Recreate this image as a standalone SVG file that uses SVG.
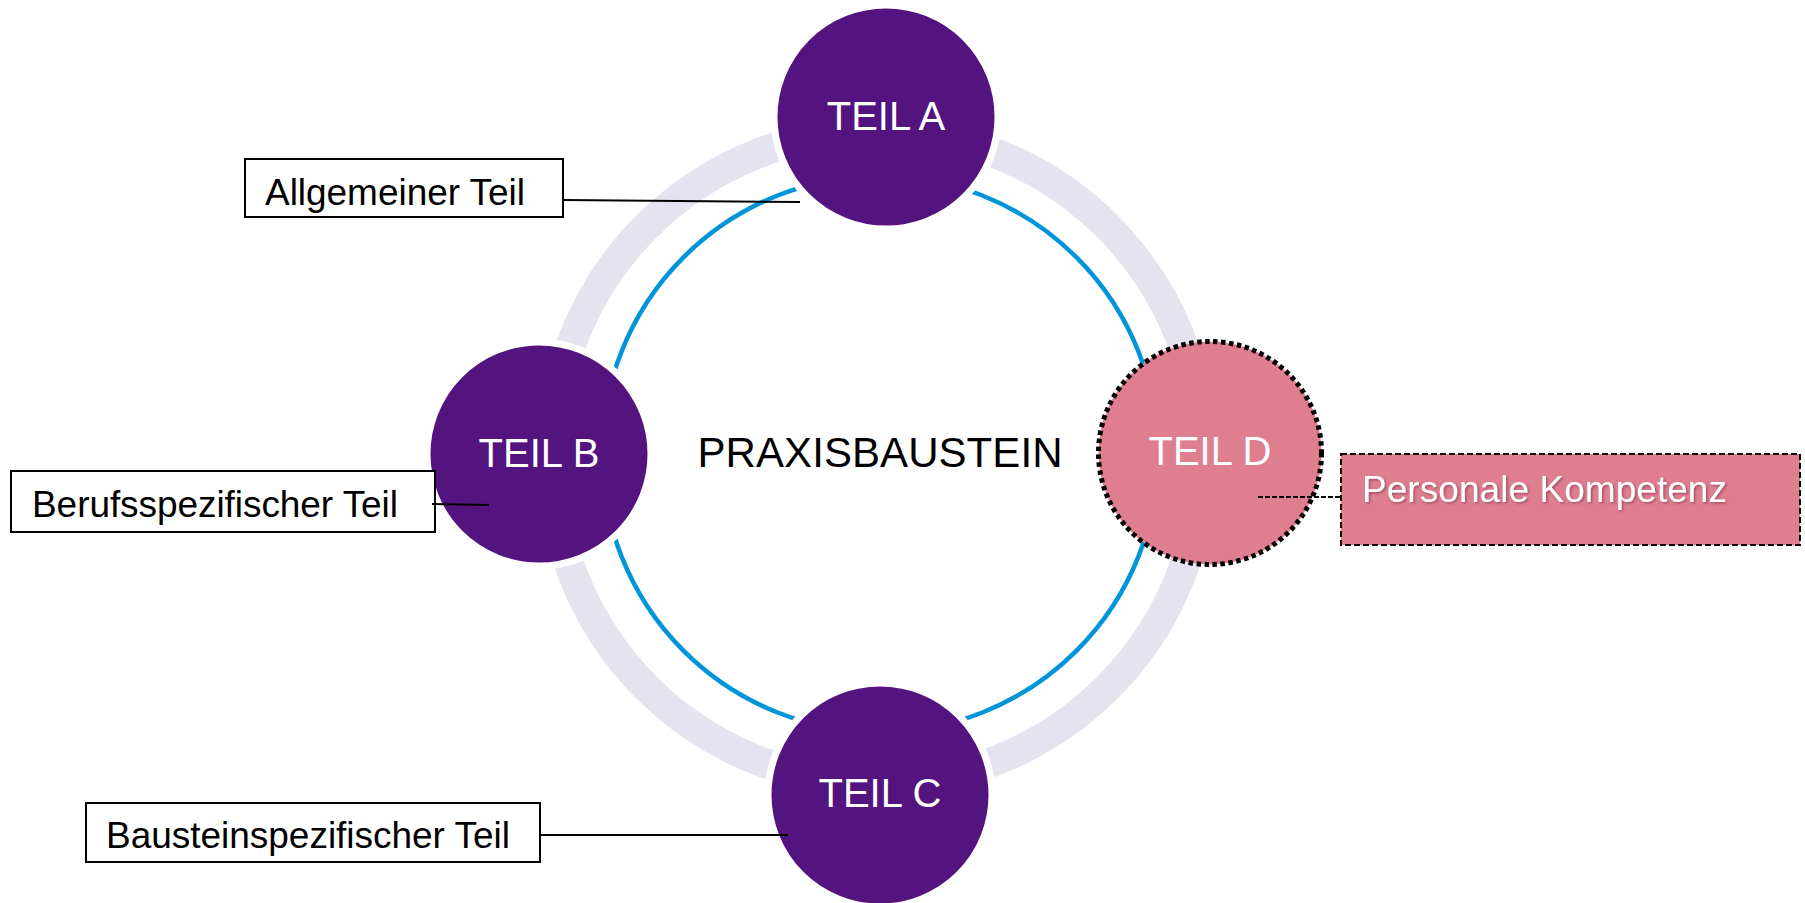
<svg xmlns="http://www.w3.org/2000/svg" width="1805" height="903" viewBox="0 0 1805 903">
<style>
.hub{fill:#541480;stroke:#ffffff;stroke-width:7}
.hubtxt{font-family:"Liberation Sans",Arial,sans-serif;font-size:40px;fill:#ffffff;text-anchor:middle}
.lbl{fill:#ffffff;stroke:#000000;stroke-width:2}
.lbltxt{font-family:"Liberation Sans",Arial,sans-serif;font-size:37px;fill:#000000}
.conn{stroke:#000000;stroke-width:2;fill:none}
</style>
<defs>
<filter id="sh" x="-5%" y="-20%" width="110%" height="140%">
<feDropShadow dx="1.5" dy="1.5" stdDeviation="1" flood-color="#7a3040" flood-opacity="0.6"/>
</filter>
</defs>
<rect width="1805" height="903" fill="#ffffff"/>
<g id="ring">
<circle cx="877" cy="457" r="326" fill="none" stroke="#E6E3F0" stroke-width="30"/>
<circle cx="880" cy="454" r="278" fill="none" stroke="#0095DA" stroke-width="4.5"/>
</g>
<text x="880" y="467" font-family="Liberation Sans, Arial, sans-serif" font-size="42" text-anchor="middle" fill="#000000" textLength="365">PRAXISBAUSTEIN</text>
<g id="teil-a">
<circle class="hub" cx="886" cy="117" r="112"/>
<text class="hubtxt" x="886" y="130">TEIL A</text>
</g>
<g id="teil-b">
<circle class="hub" cx="539" cy="454" r="112"/>
<text class="hubtxt" x="539" y="467">TEIL B</text>
</g>
<g id="teil-c">
<circle class="hub" cx="880" cy="795" r="112"/>
<text class="hubtxt" x="880" y="807">TEIL C</text>
</g>
<g id="teil-d">
<circle cx="1210" cy="453" r="111.5" fill="#DE7E8F" stroke="#000000" stroke-width="5" stroke-dasharray="4.5 3.5"/>
<text class="hubtxt" x="1210" y="465">TEIL D</text>
</g>
<g id="label-allgemeiner">
<rect class="lbl" x="245" y="159" width="318" height="58"/>
<text class="lbltxt" x="265" y="205" textLength="260">Allgemeiner Teil</text>
</g>
<g id="label-berufsspezifischer">
<rect class="lbl" x="11" y="471" width="424" height="61"/>
<text class="lbltxt" x="32" y="517" textLength="366">Berufsspezifischer Teil</text>
</g>
<g id="label-bausteinspezifischer">
<rect class="lbl" x="86" y="803" width="454" height="59"/>
<text class="lbltxt" x="106" y="848" textLength="404">Bausteinspezifischer Teil</text>
</g>
<g id="label-personale">
<rect x="1341" y="454" width="459" height="91" fill="#DE7E8F" stroke="#000000" stroke-width="2" stroke-dasharray="6 3"/>
<text x="1362" y="502" font-family="Liberation Sans, Arial, sans-serif" font-size="37" fill="#ffffff" filter="url(#sh)" textLength="365">Personale Kompetenz</text>
</g>
<g id="connectors">
<line class="conn" x1="563" y1="200" x2="800" y2="202"/>
<line class="conn" x1="432" y1="504" x2="489" y2="505"/>
<line class="conn" x1="540" y1="835" x2="788" y2="835"/>
<line x1="1258" y1="497" x2="1341" y2="497" stroke="#000000" stroke-width="2" stroke-dasharray="5 2"/>
</g>
</svg>
